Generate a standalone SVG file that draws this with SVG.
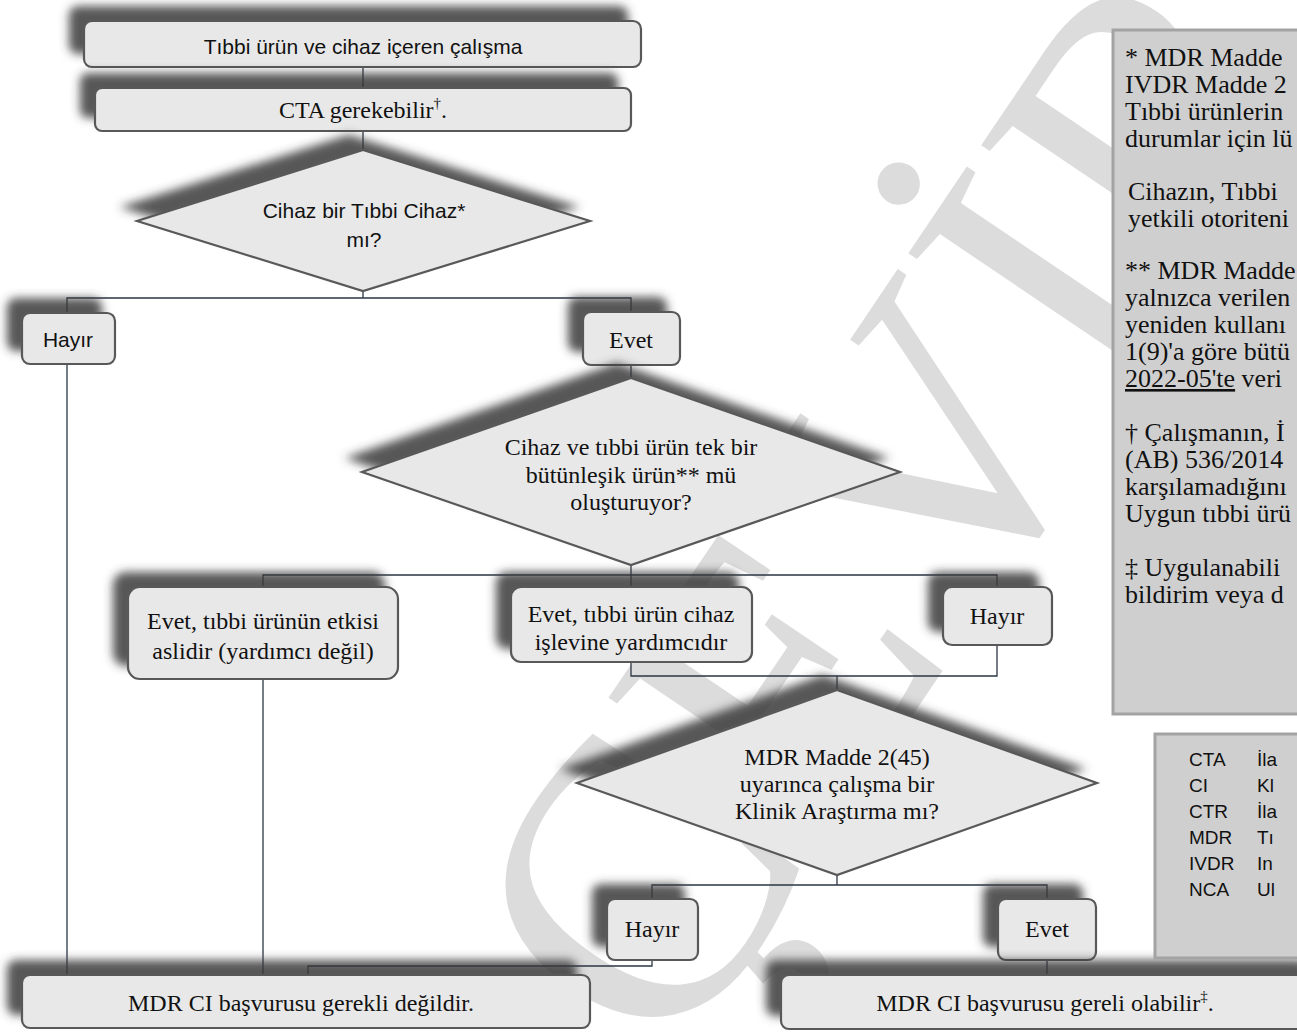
<svg xmlns="http://www.w3.org/2000/svg" width="1297" height="1032" viewBox="0 0 1297 1032">
<defs>
<style>
.node{fill:#e8e8e8;stroke:#595959;stroke-width:2.2}
.sans{font-family:"Liberation Sans",Arial,sans-serif;font-size:21px;fill:#111}
.serif{font-family:"Liberation Serif","Times New Roman",serif;font-size:24px;fill:#111}
.pan{font-family:"Liberation Serif","Times New Roman",serif;font-size:26px;fill:#111}
.leg{font-family:"Liberation Sans",Arial,sans-serif;font-size:19px;fill:#111}
.conn{fill:none;stroke:#2b3646;stroke-width:1.3}
.wm{font-family:"Liberation Serif","Times New Roman",serif;font-size:400px;fill:#dcdcdc}
</style>
<filter id="sh" x="-30%" y="-60%" width="160%" height="220%">
<feGaussianBlur in="SourceAlpha" stdDeviation="5"/>
<feOffset dx="-14" dy="-14" result="b"/>
<feFlood flood-color="#3a3a3a" flood-opacity="0.85"/>
<feComposite in2="b" operator="in"/>
<feMerge><feMergeNode/><feMergeNode in="SourceGraphic"/></feMerge>
</filter>
</defs>
<rect width="1297" height="1032" fill="#fff"/>
<text class="wm" transform="translate(670,1075) rotate(-56)">ÇEVİRİ</text>

<g id="connectors">
<line class="conn" x1="363" y1="67" x2="363" y2="88"/>
<line class="conn" x1="363" y1="131" x2="363" y2="150"/>
<polyline class="conn" points="363,291 363,298"/>
<polyline class="conn" points="67,313 67,298 631,298 631,312"/>
<line class="conn" x1="67" y1="364" x2="67" y2="975"/>
<line class="conn" x1="631" y1="365" x2="631" y2="378"/>
<polyline class="conn" points="631,565 631,587"/>
<polyline class="conn" points="263,587 263,575 997,575 997,587"/>
<line class="conn" x1="263" y1="679" x2="263" y2="975"/>
<polyline class="conn" points="631,662 631,676 997,676 997,645"/>
<line class="conn" x1="837" y1="676" x2="837" y2="690"/>
<polyline class="conn" points="837,875 837,885"/>
<polyline class="conn" points="652,899 652,885 1047,885 1047,899"/>
<polyline class="conn" points="652,960 652,966 308,966 308,975"/>
<line class="conn" x1="1047" y1="960" x2="1047" y2="975"/>
</g>

<g id="n1" filter="url(#sh)"><rect class="node" x="84" y="21" width="557" height="46" rx="8"/></g>
<text class="sans" x="363" y="54" text-anchor="middle">Tıbbi ürün ve cihaz içeren çalışma</text>

<g id="n2" filter="url(#sh)"><rect class="node" x="95" y="88" width="536" height="43" rx="7"/></g>
<text class="serif" x="363" y="118" text-anchor="middle">CTA gerekebilir<tspan font-size="15" dy="-10">†</tspan><tspan dy="10">.</tspan></text>

<g id="d1" filter="url(#sh)"><polygon class="node" points="363,150 590,221 363,291 137,221"/></g>
<text class="sans" x="364" y="218" text-anchor="middle">Cihaz bir Tıbbi Cihaz*</text>
<text class="sans" x="364" y="247" text-anchor="middle">mı?</text>

<g id="h1" filter="url(#sh)"><rect class="node" x="22" y="313" width="93" height="51" rx="8"/></g>
<text class="sans" x="68" y="347" text-anchor="middle">Hayır</text>

<g id="e1" filter="url(#sh)"><rect class="node" x="583" y="312" width="97" height="53" rx="8"/></g>
<text class="serif" x="631" y="348" text-anchor="middle">Evet</text>

<g id="d2" filter="url(#sh)"><polygon class="node" points="631,378 900,472 631,565 362,472"/></g>
<text class="serif" x="631" y="455" text-anchor="middle">Cihaz ve tıbbi ürün tek bir</text>
<text class="serif" x="631" y="483" text-anchor="middle">bütünleşik ürün** mü</text>
<text class="serif" x="631" y="510" text-anchor="middle">oluşturuyor?</text>

<g id="b1" filter="url(#sh)"><rect class="node" x="128" y="587" width="270" height="92" rx="12"/></g>
<text class="serif" x="263" y="629" text-anchor="middle">Evet, tıbbi ürünün etkisi</text>
<text class="serif" x="263" y="659" text-anchor="middle">aslidir (yardımcı değil)</text>

<g id="b2" filter="url(#sh)"><rect class="node" x="511" y="587" width="241" height="75" rx="10"/></g>
<text class="serif" x="631" y="622" text-anchor="middle">Evet, tıbbi ürün cihaz</text>
<text class="serif" x="631" y="650" text-anchor="middle">işlevine yardımcıdır</text>

<g id="h2" filter="url(#sh)"><rect class="node" x="943" y="587" width="109" height="58" rx="9"/></g>
<text class="serif" x="997" y="624" text-anchor="middle">Hayır</text>

<g id="d3" filter="url(#sh)"><polygon class="node" points="837,690 1097,783 837,875 577,783"/></g>
<text class="serif" x="837" y="765" text-anchor="middle">MDR Madde 2(45)</text>
<text class="serif" x="837" y="792" text-anchor="middle">uyarınca çalışma bir</text>
<text class="serif" x="837" y="819" text-anchor="middle">Klinik Araştırma mı?</text>

<g id="h3" filter="url(#sh)"><rect class="node" x="607" y="899" width="91" height="61" rx="8"/></g>
<text class="serif" x="652" y="937" text-anchor="middle">Hayır</text>

<g id="e3" filter="url(#sh)"><rect class="node" x="998" y="899" width="98" height="61" rx="8"/></g>
<text class="serif" x="1047" y="937" text-anchor="middle">Evet</text>

<g id="f1" filter="url(#sh)"><rect class="node" x="22" y="975" width="568" height="53" rx="8"/></g>
<text class="serif" x="301" y="1011" text-anchor="middle">MDR CI başvurusu gerekli değildir.</text>

<g id="f2" filter="url(#sh)"><rect class="node" x="781" y="975" width="540" height="54" rx="8"/></g>
<text class="serif" x="1045" y="1011" text-anchor="middle">MDR CI başvurusu gereli olabilir<tspan font-size="15" dy="-10">‡</tspan><tspan dy="10">.</tspan></text>

<g id="notes">
<rect x="1113" y="30" width="200" height="684" fill="#d0cfd0" stroke="#a3a3a3" stroke-width="3"/>
<text class="pan" x="1125" y="66">* MDR Madde</text>
<text class="pan" x="1125" y="93">IVDR Madde 2</text>
<text class="pan" x="1125" y="120">Tıbbi  ürünlerin</text>
<text class="pan" x="1125" y="147">durumlar için lü</text>
<text class="pan" x="1128" y="200">Cihazın,  Tıbbi</text>
<text class="pan" x="1128" y="227">yetkili otoriteni</text>
<text class="pan" x="1125" y="279">** MDR Madde</text>
<text class="pan" x="1125" y="306">yalnızca  verilen</text>
<text class="pan" x="1125" y="333">yeniden kullanı</text>
<text class="pan" x="1125" y="360">1(9)'a göre bütü</text>
<text class="pan" x="1125" y="387"><tspan text-decoration="underline">2022-05'te</tspan> veri</text>
<text class="pan" x="1125" y="441">† Çalışmanın, İ</text>
<text class="pan" x="1125" y="468">(AB) 536/2014</text>
<text class="pan" x="1125" y="495">karşılamadığını</text>
<text class="pan" x="1125" y="522">Uygun tıbbi ürü</text>
<text class="pan" x="1125" y="576">‡  Uygulanabili</text>
<text class="pan" x="1125" y="603">bildirim veya d</text>
</g>

<g id="legend">
<rect x="1155" y="734" width="160" height="224" fill="#d0cfd0" stroke="#a3a3a3" stroke-width="3"/>
<text class="leg" x="1189" y="766">CTA</text><text class="leg" x="1257" y="766">İla</text>
<text class="leg" x="1189" y="792">CI</text><text class="leg" x="1257" y="792">Kl</text>
<text class="leg" x="1189" y="818">CTR</text><text class="leg" x="1257" y="818">İla</text>
<text class="leg" x="1189" y="844">MDR</text><text class="leg" x="1257" y="844">Tı</text>
<text class="leg" x="1189" y="870">IVDR</text><text class="leg" x="1257" y="870">In</text>
<text class="leg" x="1189" y="896">NCA</text><text class="leg" x="1257" y="896">Ul</text>
</g>
</svg>
